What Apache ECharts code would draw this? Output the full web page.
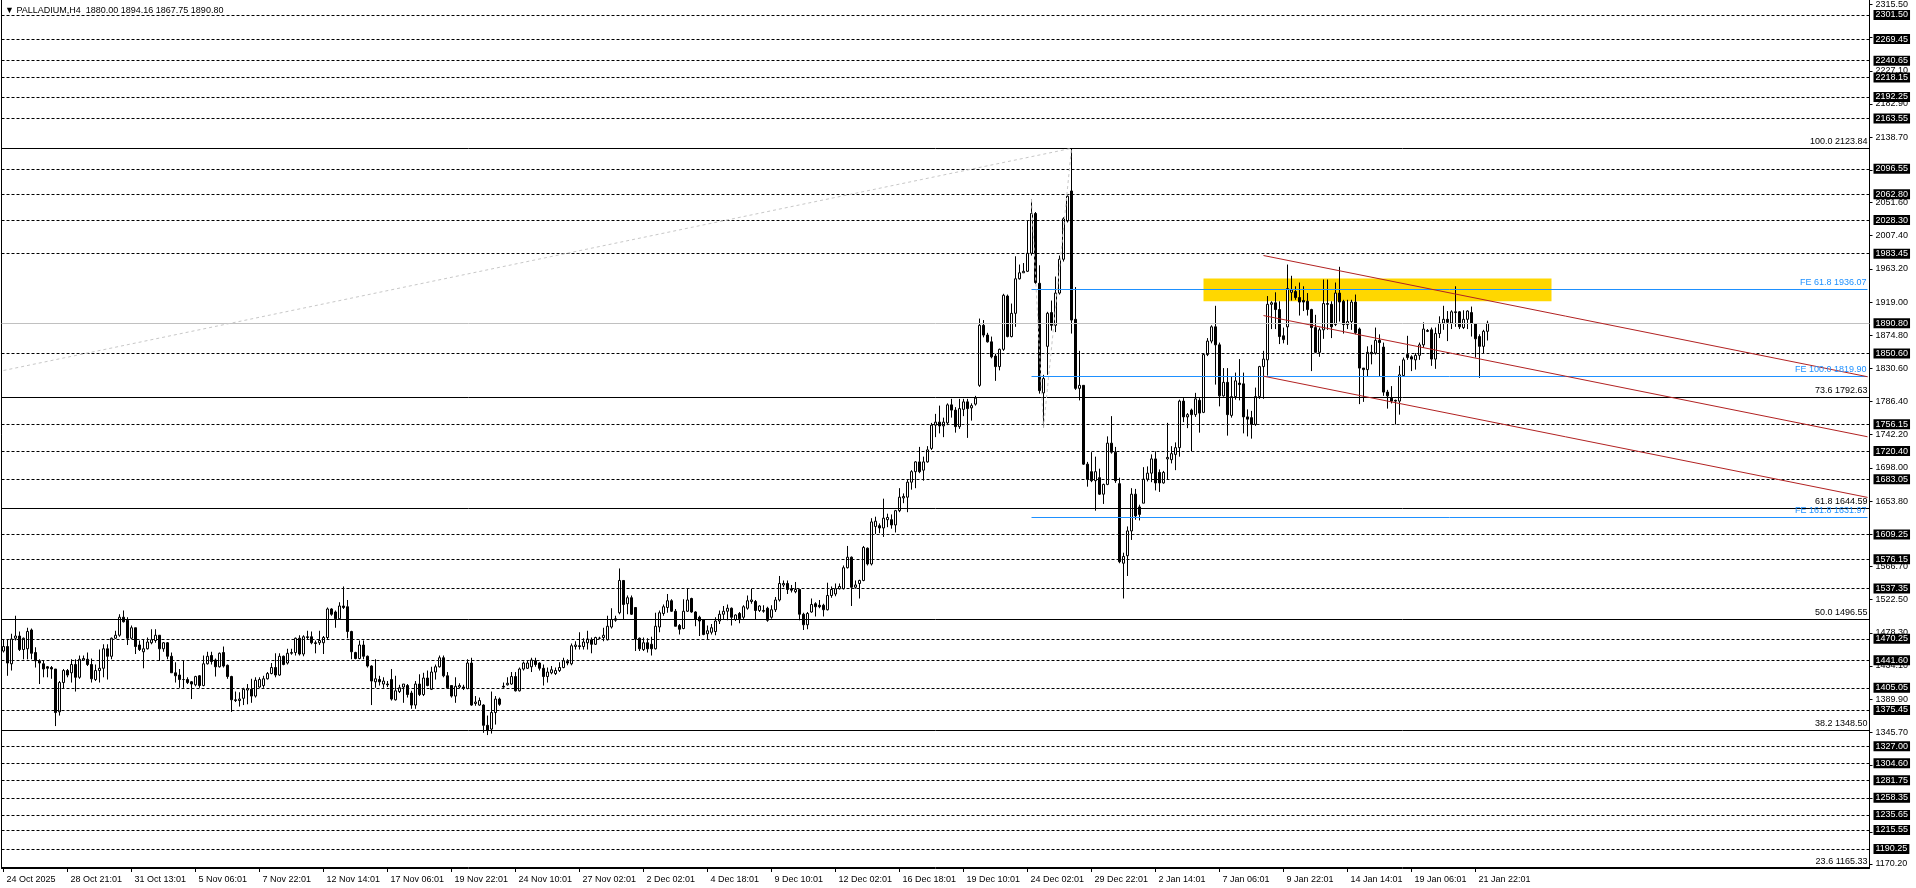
<!DOCTYPE html>
<html><head><meta charset="utf-8">
<script src="https://cdn.jsdelivr.net/npm/echarts@6/dist/echarts.min.js"></script>
<style>html,body{margin:0;padding:0;background:#fff;overflow:hidden}#c{width:1916px;height:888px}</style>
</head><body><div id="c"></div>
<script>
const symbolName = 'PALLADIUM,H4';
const xTickLabels = ['24 Oct 2025','28 Oct 21:01','31 Oct 13:01','5 Nov 06:01','7 Nov 22:01','12 Nov 14:01','17 Nov 06:01','19 Nov 22:01','24 Nov 10:01','27 Nov 02:01','2 Dec 02:01','4 Dec 18:01','9 Dec 10:01','12 Dec 02:01','16 Dec 18:01','19 Dec 10:01','24 Dec 02:01','29 Dec 22:01','2 Jan 14:01','7 Jan 06:01','9 Jan 22:01','14 Jan 14:01','19 Jan 06:01','21 Jan 22:01'];
const barsPerLabel = 16;
const totalSlots = 467;

const opens = [
1454,1460,1437,1471,1474,1456,1457,1482,1452,1441,
1437,1433,1432,1430,1373,1412,1428,1425,1436,1419,
1442,1443,1436,1416,1428,1431,1457,1447,1471,1475,
1499,1495,1471,1485,1462,1453,1457,1465,1468,1475,
1457,1465,1447,1425,1422,1416,1416,1413,1409,1421,
1408,1437,1448,1442,1433,1452,1435,1420,1389,1388,
1391,1402,1403,1394,1406,1408,1417,1424,1432,1422,
1447,1438,1451,1452,1471,1450,1473,1473,1465,1465,
1465,1472,1510,1506,1497,1514,1513,1480,1452,1444,
1462,1447,1434,1413,1416,1410,1410,1416,1389,1400,
1406,1408,1398,1382,1410,1396,1418,1403,1426,1433,
1445,1421,1408,1394,1406,1406,1404,1438,1384,1382,
1382,1355,1350,1372,1390,1407,1409,1410,1420,1401,
1430,1431,1433,1441,1438,1431,1420,1425,1424,1428,
1432,1440,1437,1460,1461,1460,1465,1469,1463,1471,
1472,1469,1486,1495,1505,1548,1517,1525,1512,1471,
1456,1465,1463,1457,1486,1504,1512,1521,1507,1488,
1484,1507,1524,1506,1499,1496,1477,1479,1480,1494,
1503,1507,1511,1496,1504,1499,1511,1520,1520,1508,
1507,1511,1499,1509,1522,1542,1544,1537,1533,1536,
1503,1489,1506,1517,1515,1515,1509,1528,1530,1537,
1537,1565,1579,1539,1544,1548,1591,1570,1620,1621,
1618,1629,1629,1622,1641,1658,1659,1679,1693,1706,
1695,1706,1724,1755,1759,1754,1758,1782,1775,1753,
1776,1786,1778,1783,1808,1888,1875,1866,1847,1833,
1856,1927,1873,1904,1950,1958,1960,1984,2037,1944,
1798,1860,1905,1888,1931,1976,2027,2067,1896,1804,
1808,1703,1693,1681,1685,1663,1676,1731,1719,1677,
1571,1581,1614,1663,1646,1651,1683,1691,1710,1692,
1678,1710,1709,1716,1725,1787,1766,1775,1769,1788,
1772,1849,1867,1886,1862,1794,1812,1768,1793,1811,
1810,1766,1765,1756,1793,1833,1842,1916,1918,1909,
1874,1886,1932,1933,1925,1921,1920,1909,1885,1852,
1882,1917,1916,1889,1931,1920,1889,1893,1919,1883,
1831,1829,1852,1851,1868,1859,1799,1791,1788,1787,
1821,1849,1846,1842,1848,1862,1881,1882,1843,1877,
1891,1896,1891,1906,1906,1885,1896,1905,1890,1873,
1860,1880.00];

const closes = [
1460,1438,1470,1474,1456,1471,1480,1451,1441,1438,
1430,1431,1430,1372,1412,1428,1422,1436,1419,1443,
1444,1436,1417,1428,1431,1457,1447,1471,1475,1499,
1493,1471,1485,1460,1456,1457,1466,1469,1475,1457,
1465,1447,1425,1421,1416,1416,1412,1410,1420,1408,
1437,1447,1440,1433,1451,1434,1420,1389,1388,1390,
1403,1404,1394,1415,1416,1417,1424,1432,1422,1447,
1436,1451,1452,1471,1450,1473,1472,1465,1464,1468,
1472,1510,1503,1497,1514,1512,1480,1453,1444,1462,
1447,1434,1414,1417,1413,1414,1409,1390,1401,1405,
1410,1396,1382,1410,1396,1418,1408,1426,1433,1445,
1421,1405,1394,1407,1408,1404,1438,1382,1386,1388,
1355,1348,1372,1390,1383,1406,1411,1420,1401,1430,
1438,1438,1442,1436,1431,1420,1426,1429,1428,1432,
1441,1438,1461,1462,1460,1466,1470,1463,1472,1471,
1475,1487,1496,1497,1548,1516,1525,1503,1470,1457,
1465,1457,1457,1487,1505,1513,1521,1507,1487,1483,
1507,1522,1506,1496,1494,1476,1481,1485,1494,1503,
1507,1511,1499,1502,1497,1513,1521,1522,1508,1514,
1508,1495,1509,1522,1544,1544,1536,1535,1536,1503,
1489,1504,1516,1513,1513,1509,1528,1536,1537,1540,
1565,1579,1539,1542,1548,1592,1570,1626,1627,1618,
1631,1632,1622,1641,1659,1660,1679,1693,1706,1693,
1706,1722,1755,1759,1754,1759,1782,1775,1753,1777,
1786,1777,1781,1791,1888,1875,1866,1846,1833,1856,
1928,1873,1904,1950,1958,1960,1984,2037,1945,1801,
1817,1904,1888,1931,1976,2030,2060,1895,1804,1808,
1703,1683,1681,1693,1663,1676,1731,1719,1681,1573,
1580,1614,1663,1634,1636,1683,1691,1710,1678,1678,
1692,1712,1717,1725,1787,1766,1769,1769,1790,1771,
1849,1867,1886,1862,1794,1812,1769,1793,1814,1809,
1766,1763,1756,1793,1833,1843,1916,1918,1909,1873,
1869,1937,1935,1925,1919,1919,1909,1885,1852,1882,
1917,1916,1886,1931,1919,1889,1893,1919,1878,1831,
1829,1852,1850,1868,1865,1799,1794,1787,1787,1822,
1842,1845,1843,1848,1862,1883,1880,1843,1877,1891,
1896,1892,1906,1905,1886,1896,1907,1891,1870,1860,
1880,1890.80];

const lows = [
1452,1421,1428,1468,1454,1443,1443,1443,1432,1410,
1419,1419,1417,1354,1368,1404,1419,1412,1400,1417,
1441,1434,1412,1414,1412,1419,1416,1443,1470,1473,
1492,1462,1470,1450,1454,1431,1456,1463,1465,1441,
1453,1443,1425,1412,1405,1405,1410,1390,1407,1405,
1407,1436,1436,1420,1432,1432,1417,1373,1386,1380,
1382,1383,1385,1392,1405,1405,1416,1423,1419,1421,
1435,1436,1449,1448,1448,1447,1470,1463,1451,1462,
1450,1470,1501,1485,1496,1510,1471,1443,1443,1443,
1443,1432,1382,1405,1408,1405,1406,1388,1388,1398,
1385,1392,1377,1377,1394,1394,1407,1402,1416,1432,
1419,1404,1392,1385,1404,1402,1403,1381,1381,1381,
1345,1342,1344,1356,1381,1405,1408,1409,1400,1400,
1428,1430,1426,1433,1428,1408,1412,1423,1422,1426,
1431,1435,1435,1456,1456,1456,1456,1451,1462,1470,
1467,1468,1484,1493,1503,1496,1503,1502,1454,1454,
1454,1452,1448,1456,1479,1501,1505,1506,1487,1476,
1483,1506,1505,1487,1474,1475,1470,1476,1475,1490,
1496,1495,1488,1494,1491,1496,1509,1517,1496,1506,
1505,1493,1497,1506,1520,1539,1530,1532,1531,1495,
1482,1483,1505,1500,1511,1500,1508,1525,1527,1536,
1536,1564,1514,1537,1524,1547,1568,1568,1610,1611,
1606,1619,1617,1612,1639,1651,1639,1669,1671,1691,
1681,1705,1722,1739,1744,1739,1755,1765,1745,1750,
1767,1738,1761,1781,1806,1872,1865,1844,1814,1828,
1854,1872,1872,1886,1949,1958,1959,1981,1943,1797,
1751.4,1822,1881,1879,1929,1973,2025,1877,1802,1788,
1702,1673,1679,1641,1662,1650,1675,1717,1678,1571,
1524,1554,1602,1629,1628,1651,1680,1679,1668,1666,
1677,1682,1704,1695,1713,1759,1751,1720,1766,1745,
1771,1847,1864,1809,1780,1793,1741,1765,1789,1788,
1744,1740,1737,1754,1790,1790,1821,1883,1883,1863,
1864,1862,1921,1922,1901,1907,1901,1827,1851,1846,
1870,1882,1871,1887,1893,1877,1883,1882,1876,1783,
1786,1820,1836,1849,1820,1794,1777,1784,1756,1769,
1820,1842,1827,1829,1842,1858,1879,1834,1830,1871,
1882,1867,1883,1886,1883,1883,1883,1873,1845,1818,
1850,1867.75];

const highs = [
1470,1470,1477,1501,1480,1472,1485,1484,1459,1443,
1441,1434,1434,1430,1414,1430,1430,1443,1443,1448,
1448,1452,1444,1436,1456,1463,1463,1472,1481,1503,
1508,1499,1488,1485,1468,1470,1472,1483,1483,1475,
1466,1466,1452,1439,1430,1441,1419,1414,1421,1422,
1448,1453,1453,1444,1452,1460,1436,1421,1400,1399,
1405,1410,1417,1419,1419,1421,1426,1438,1451,1451,
1448,1457,1457,1472,1475,1475,1481,1480,1468,1481,
1474,1512,1511,1508,1519,1540,1522,1481,1453,1468,
1468,1448,1435,1443,1421,1419,1414,1430,1421,1409,
1410,1410,1401,1414,1423,1425,1428,1433,1436,1448,
1448,1426,1408,1419,1411,1409,1443,1445,1394,1392,
1383,1368,1400,1394,1392,1412,1419,1426,1426,1432,
1440,1441,1445,1445,1439,1436,1432,1434,1432,1439,
1445,1443,1464,1467,1479,1471,1481,1472,1473,1473,
1485,1501,1511,1501,1564,1548,1528,1528,1512,1472,
1472,1471,1473,1505,1508,1516,1530,1523,1510,1490,
1523,1537,1525,1507,1501,1496,1488,1490,1499,1508,
1514,1516,1512,1503,1506,1515,1528,1537,1522,1515,
1515,1513,1515,1526,1554,1548,1548,1542,1546,1536,
1505,1506,1524,1519,1522,1517,1545,1540,1544,1544,
1568,1594,1580,1548,1549,1594,1592,1631,1633,1624,
1657,1637,1636,1642,1671,1664,1682,1695,1707,1726,
1713,1727,1758,1770,1781,1765,1784,1790,1779,1790,
1790,1790,1784,1794,1897,1895,1878,1873,1850,1857,
1930,1929,1917,1980,1969,1971,2027,2055.5,2039,1968,
1822,1906,1921,1953,1981,2032,2061,2123.84,1939,1854,
1808,1706,1719,1713,1697,1677,1740,1767,1726,1685,
1585,1620,1671,1670,1649,1699,1700,1716,1720,1696,
1694,1758,1727,1732,1789,1791,1771,1777,1798,1791,
1850,1871,1888,1914,1865,1831,1831,1820,1825,1843,
1825,1776,1774,1805,1834,1854,1927,1920,1932,1920,
1885,1969,1954,1940,1945,1940,1931,1910,1902,1885,
1949,1949,1920,1945,1966,1922,1922,1922,1929,1885,
1831,1860,1862,1885,1876,1865,1802,1807,1789,1834,
1845,1874,1848,1851,1865,1892,1883,1885,1885,1900,
1914,1907,1908,1940,1907,1908,1908,1913,1891,1876,
1882,1894.16];

const priceTicks = [2315.50,2271.30,2227.10,2182.90,2138.70,2094.50,2051.60,2007.40,1963.20,1919.00,1874.80,1830.60,1786.40,1742.20,1698.00,1653.80,1609.60,1566.70,1522.50,1478.30,1434.10,1389.90,1345.70,1301.50,1257.30,1213.10,1170.20];
const levelLines = [2301.50,2269.45,2240.65,2218.15,2192.25,2163.55,2096.55,2062.80,2028.30,1983.45,1850.60,1756.15,1720.40,1683.05,1609.25,1576.15,1537.35,1470.25,1441.60,1405.05,1375.45,1327.00,1304.60,1281.75,1258.35,1235.65,1215.55,1190.25];
const fibRatios = ['100.0','73.6','61.8','50.0','38.2','23.6'];
const fibPrices = [2123.84,1792.63,1644.59,1496.55,1348.50,1165.33];
const feRatios = ['FE 61.8','FE 100.0','FE 161.8'];
const fePrices = [1936.07,1819.90,1631.97];
const feStartBar = 257;
const currentPrice = 1890.80;
const zoneBars = [300, 387];
const zonePrices = [1950.4, 1920.2];
const channelBars = [315, 466];
const channelStart = [1981.0, 1901.0, 1820.2];
const channelEnd = [1819.5, 1739.5, 1658.7];
const fibTrendBars = [0, 267];
const fibTrendPrices = [1827.8, 2123.84];
const zigzagBars = [257, 260, 267];
const zigzagPrices = [2055.5, 1751.4, 2123.84];
const yMin = 1164.87, yMax = 2321.2;

if (!(opens.length === closes.length && closes.length === lows.length && lows.length === highs.length)) {
  throw new Error('length mismatch ' + [opens.length, closes.length, lows.length, highs.length].join(','));
}

const F = "'Liberation Sans', Arial, 'DejaVu Sans', sans-serif";
const cats = [];
for (let i = 0; i < totalSlots; i++) {
  const k = i / barsPerLabel;
  cats.push(i % barsPerLabel === 0 && k < xTickLabels.length ? xTickLabels[k] : '');
}
const candles = opens.map((o, i) => [o, closes[i], lows[i], highs[i]]);
const last = candles.length - 1;
const titleText = '\u25BC ' + symbolName + '  ' + [opens[last], highs[last], lows[last], closes[last]].map(v => v.toFixed(2)).join(' ');

const boxLabel = {
  show: true, position: 'end', distance: 4, color: '#fff', backgroundColor: '#000',
  padding: [1, 2, 0, 2], fontSize: 9, lineHeight: 9, fontFamily: F,
  formatter: p => Number(p.value).toFixed(2)
};

const chart = echarts.init(document.getElementById('c'), null, {renderer: 'canvas'});
chart.setOption({
  animation: false,
  backgroundColor: '#fff',
  title: {text: titleText, left: 5, top: 6, padding: 0, textStyle: {fontSize: 9, fontWeight: 'normal', color: '#000', fontFamily: F}},
  grid: {left: 1.5, right: 46.5, top: 0, bottom: 20},
  xAxis: [{
    type: 'category', data: cats, boundaryGap: true,
    axisLine: {show: true, lineStyle: {color: '#000', width: 1}},
    axisTick: {show: true, alignWithLabel: true, interval: (i, v) => v !== '', length: 4, lineStyle: {color: '#000'}},
    axisLabel: {interval: (i, v) => v !== '', align: 'left', margin: 7, color: '#000', fontSize: 9, fontFamily: F, padding: [0, 0, 0, 3]},
    splitLine: {show: false}
  }],
  yAxis: [{
    type: 'value', position: 'right', min: yMin, max: yMax,
    axisLine: {show: true, lineStyle: {color: '#000'}},
    axisTick: {show: true, customValues: priceTicks, length: 3, lineStyle: {color: '#000'}},
    axisLabel: {customValues: priceTicks, formatter: v => Number(v).toFixed(2), margin: 6, color: '#000', fontSize: 9, fontFamily: F},
    splitLine: {show: false}
  }, {
    type: 'value', position: 'left', min: yMin, max: yMax,
    axisLine: {show: true, onZero: false, lineStyle: {color: '#000'}},
    axisTick: {show: false}, axisLabel: {show: false}, splitLine: {show: false}
  }],
  series: [
    {
      type: 'line', data: [], z: 1, silent: true,
      markArea: {silent: true, itemStyle: {color: '#FFD700', opacity: 1},
        data: [[{coord: [zoneBars[0], zonePrices[0]]}, {coord: [zoneBars[1], zonePrices[1]]}]]}
    },
    {
      type: 'candlestick', data: candles, z: 3, silent: true, barWidth: 2,
      itemStyle: {color: '#fff', color0: '#000', borderColor: '#000', borderColor0: '#000', borderWidth: 1}
    },
    {
      type: 'line', data: [], z: 4, silent: true, clip: false,
      markLine: {silent: true, symbol: ['none', 'none'], animation: false,
        lineStyle: {color: '#000', type: [3, 2], width: 1},
        label: boxLabel,
        data: levelLines.map(v => ({yAxis: v}))}
    },
    {
      type: 'line', data: [], z: 4, silent: true, clip: false,
      markLine: {silent: true, symbol: ['none', 'none'], animation: false,
        lineStyle: {color: '#c0c0c0', type: 'solid', width: 1},
        label: boxLabel,
        data: [{yAxis: currentPrice}]}
    },
    {
      type: 'line', data: [], z: 4, silent: true, clip: false,
      markLine: {silent: true, symbol: ['none', 'none'], animation: false,
        lineStyle: {color: '#000', type: 'solid', width: 1},
        label: {show: true, position: 'insideEndTop', distance: [2, 2], color: '#000', fontSize: 9, fontFamily: F, formatter: '{b}'},
        data: fibPrices.map((v, i) => ({yAxis: v, name: fibRatios[i] + ' ' + v.toFixed(2)}))}
    },
    {
      type: 'line', data: [], z: 4, silent: true, clip: false,
      markLine: {silent: true, symbol: ['none', 'none'], animation: false,
        lineStyle: {color: '#1E90FF', type: 'solid', width: 1},
        label: {show: true, position: 'insideEndTop', distance: [1, 2], color: '#1E90FF', fontSize: 9, fontFamily: F, formatter: '{b}'},
        data: fePrices.map((v, i) => [{name: feRatios[i] + ' ' + v.toFixed(2), coord: [feStartBar, v]}, {coord: [totalSlots - 1, v]}])}
    },
    {
      type: 'line', data: [], z: 4, silent: true, clip: false,
      markLine: {silent: true, symbol: ['none', 'none'], animation: false,
        lineStyle: {color: '#B22222', type: 'solid', width: 1},
        label: {show: false},
        data: channelStart.map((v, i) => [{coord: [channelBars[0], v]}, {coord: [channelBars[1], channelEnd[i]]}])}
    },
    {
      type: 'line', data: [], z: 2, silent: true, clip: false,
      markLine: {silent: true, symbol: ['none', 'none'], animation: false,
        lineStyle: {color: '#c8c8c8', type: [3, 3], width: 1},
        label: {show: false},
        data: [
          [{coord: [fibTrendBars[0], fibTrendPrices[0]]}, {coord: [fibTrendBars[1], fibTrendPrices[1]]}],
          [{coord: [zigzagBars[0], zigzagPrices[0]]}, {coord: [zigzagBars[1], zigzagPrices[1]]}],
          [{coord: [zigzagBars[1], zigzagPrices[1]]}, {coord: [zigzagBars[2], zigzagPrices[2]]}]
        ]}
    }
  ]
});
</script></body></html>
